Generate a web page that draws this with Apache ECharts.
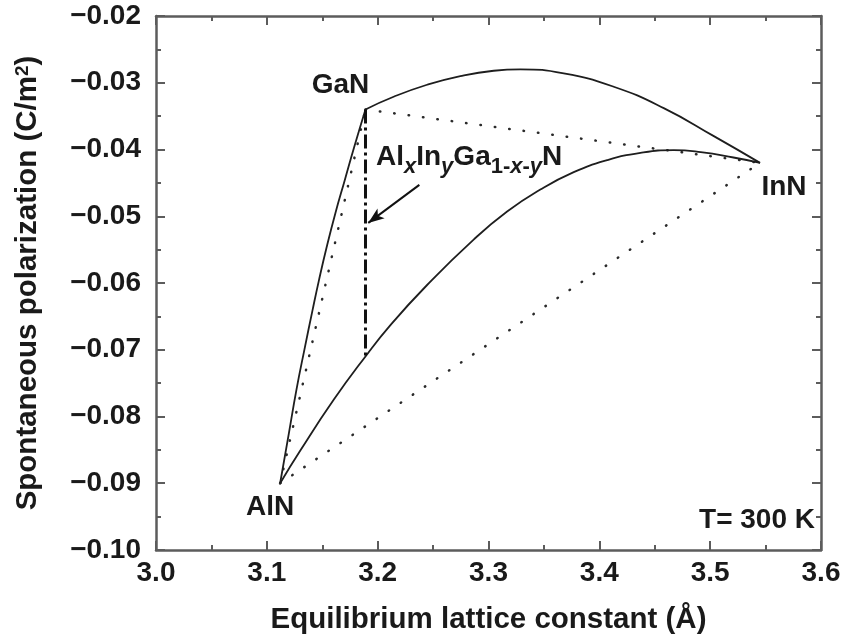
<!DOCTYPE html>
<html>
<head>
<meta charset="utf-8">
<title>Spontaneous polarization vs lattice constant</title>
<script src="https://cdn.jsdelivr.net/npm/echarts@6/dist/echarts.min.js"></script>
<style>
  html, body { margin: 0; padding: 0; background: #fff; }
  #chart { width: 842px; height: 639px; }
</style>
</head>
<body>
<div id="chart"></div>
<script>
// binary end points: lattice constant (Å) and spontaneous polarization (C/m²)
const compounds = ['AlN', 'GaN', 'InN']
const latticeA = [3.112, 3.189, 3.545]
const polarization = [-0.090, -0.034, -0.042]

// bowed ternary curves, [a, P]
const curveAlGaN = [
  [3.112, -0.090], [3.1198, -0.0826], [3.1267, -0.0760], [3.1340, -0.0699],
  [3.1412, -0.0641], [3.1470, -0.0596], [3.1540, -0.0546], [3.1619, -0.0495],
  [3.1703, -0.0446], [3.1787, -0.0397], [3.189, -0.034],
]
const curveInGaN = [
  [3.189, -0.034], [3.2144, -0.0321], [3.2446, -0.0303], [3.2746, -0.0290],
  [3.3047, -0.0282], [3.3288, -0.0280], [3.3679, -0.0286], [3.413, -0.0306],
  [3.4581, -0.0338], [3.5033, -0.0380], [3.545, -0.042],
]
const curveAlInN = [
  [3.112, -0.090], [3.1302, -0.0851], [3.1603, -0.0775], [3.189, -0.0710],
  [3.2115, -0.0663], [3.2446, -0.0603], [3.2866, -0.0535], [3.3168, -0.0493],
  [3.3468, -0.0460], [3.3769, -0.0434], [3.407, -0.0416], [3.4371, -0.0405],
  [3.4671, -0.0401], [3.4915, -0.0404], [3.521, -0.0412], [3.545, -0.042],
]

// GaN down to the AlInN curve, and the arrow pointing at it
const quaternaryLine = [[3.189, -0.034], [3.189, -0.0710]]
const arrowFrom = [3.2376, -0.0453]
const arrowTo = [3.1915, -0.0510]

const xTicks = { min: 3.0, max: 3.6, step: 0.1 }
const yTicks = { min: -0.10, max: -0.02, step: 0.01 }

const font = 'Liberation Sans, Arial, Helvetica, sans-serif'
const ink = '#1a1a1a'
const frame = '#5c5c5c'

const point = (i) => [latticeA[i], polarization[i]]
const vegard = (i, j) => [point(i), point(j)]

const labelOffset = { AlN: [-10, 24], GaN: [-25, -24], InN: [24, 24] }

const tickCfg = {
  axisLine: { show: true, onZero: false, lineStyle: { color: frame, width: 2.5 } },
  axisTick: { show: true, inside: true, length: 9, lineStyle: { color: frame, width: 2 } },
  minorTick: { show: true, splitNumber: 2, length: 5, lineStyle: { color: frame, width: 2 } },
  splitLine: { show: false },
  minorSplitLine: { show: false },
}

const labelText = { fontFamily: font, fontSize: 28, fontWeight: 'bold', color: ink }
const titleText = { fontFamily: font, fontSize: 29.5, fontWeight: 'bold', color: ink }

const solid = (data) => ({
  type: 'line',
  data: data,
  smooth: 0.5,
  showSymbol: false,
  silent: true,
  lineStyle: { color: '#1e1e1e', width: 1.8 },
})

const dotted = (data) => ({
  type: 'line',
  data: data,
  showSymbol: false,
  silent: true,
  lineStyle: { color: '#2a2a2a', width: 2.5, type: [0.5, 14], cap: 'round' },
})

const myChart = echarts.init(document.getElementById('chart'), null, {
  width: 842,
  height: 639,
})

const option = {
  animation: false,
  backgroundColor: '#fff',
  grid: { left: 156, top: 16, width: 665, height: 534, outerBoundsMode: 'none' },
  xAxis: [
    {
      type: 'value',
      position: 'bottom',
      min: xTicks.min,
      max: xTicks.max,
      interval: xTicks.step,
      ...tickCfg,
      axisLabel: { ...labelText, margin: 9, formatter: (v) => v.toFixed(1) },
      name: 'Equilibrium lattice constant (Å)',
      nameLocation: 'middle',
      nameGap: 55,
      nameMoveOverlap: false,
      nameTextStyle: { ...titleText },
    },
    {
      type: 'value',
      position: 'top',
      min: xTicks.min,
      max: xTicks.max,
      interval: xTicks.step,
      ...tickCfg,
      axisLabel: { show: false },
    },
  ],
  yAxis: [
    {
      type: 'value',
      position: 'left',
      min: yTicks.min,
      max: yTicks.max,
      interval: yTicks.step,
      ...tickCfg,
      axisLabel: {
        ...labelText,
        margin: 15,
        formatter: (v) => (v < 0 ? '\u2212' : '') + Math.abs(v).toFixed(2),
      },
      name: '{n|Spontaneous polarization (C/m}{p|2}{n|)}',
      nameLocation: 'middle',
      nameGap: 107,
      nameMoveOverlap: false,
      nameTextStyle: {
        ...titleText,
        rich: {
          n: { ...titleText, lineHeight: 36, verticalAlign: 'top' },
          p: { ...titleText, fontSize: 19, lineHeight: 20, verticalAlign: 'top' },
        },
      },
    },
    {
      type: 'value',
      position: 'right',
      min: yTicks.min,
      max: yTicks.max,
      interval: yTicks.step,
      ...tickCfg,
      axisLabel: { show: false },
    },
  ],
  series: [
    dotted(vegard(0, 1)),
    dotted(vegard(1, 2)),
    dotted(vegard(0, 2)),
    solid(curveAlGaN),
    solid(curveInGaN),
    solid(curveAlInN),
    {
      type: 'line',
      data: quaternaryLine,
      showSymbol: false,
      silent: true,
      lineStyle: { color: '#111', width: 3, type: [14, 4, 3, 4] },
      markLine: {
        silent: true,
        symbol: ['none', 'arrow'],
        symbolSize: [9, 16],
        label: { show: false },
        lineStyle: { color: '#111', width: 2, type: 'solid' },
        data: [[{ coord: arrowFrom }, { coord: arrowTo }]],
      },
    },
    {
      type: 'scatter',
      symbolSize: 0,
      silent: true,
      itemStyle: { opacity: 1 },
      data: compounds.map((name, i) => ({
        name: name,
        value: point(i),
        label: { offset: labelOffset[name] },
      })),
      label: {
        show: true,
        position: 'inside',
        opacity: 1,
        formatter: (p) => p.name,
        ...labelText,
      },
    },
  ],
  graphic: [
    {
      type: 'text',
      silent: true,
      style: {
        x: 376,
        y: 177,
        align: 'left',
        verticalAlign: 'bottom',
        textAlign: 'left',
        textVerticalAlign: 'bottom',
        text: '{m|Al}{s|x}{m|In}{s|y}{m|Ga}{u|1-}{s|x}{u|-}{s|y}{m|N}',
        rich: {
          m: { fontFamily: font, fontSize: 28, fontWeight: 'bold', fill: ink, lineHeight: 34, verticalAlign: 'top' },
          s: { fontFamily: font, fontSize: 22, fontWeight: 'bold', fontStyle: 'italic', fill: ink, lineHeight: 14, padding: [13, 0, 0, 0], verticalAlign: 'top' },
          u: { fontFamily: font, fontSize: 22, fontWeight: 'bold', fill: ink, lineHeight: 14, padding: [13, 0, 0, 0], verticalAlign: 'top' },
        },
      },
    },
    {
      type: 'text',
      silent: true,
      style: {
        x: 815,
        y: 520,
        align: 'right',
        verticalAlign: 'middle',
        textAlign: 'right',
        textVerticalAlign: 'middle',
        text: 'T= 300 K',
        font: 'bold 28px ' + font,
        fill: ink,
      },
    },
  ],
}

option && myChart.setOption(option)
</script>
</body>
</html>
